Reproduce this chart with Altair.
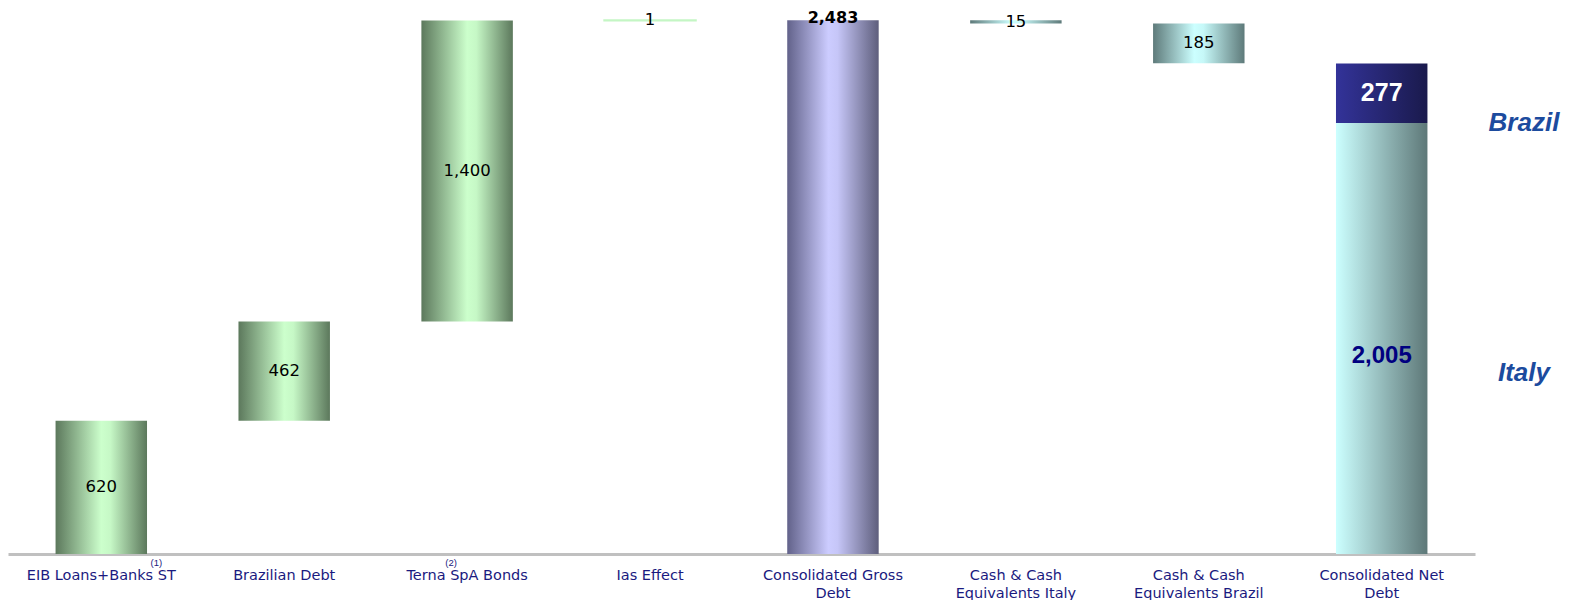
import altair as alt
import pandas as pd

# ---------------- data ----------------
categories = [
    "EIB Loans+Banks ST",
    "Brazilian Debt",
    "Terna SpA Bonds",
    "Ias Effect",
    "Consolidated Gross\nDebt",
    "Cash & Cash\nEquivalents Italy",
    "Cash & Cash\nEquivalents Brazil",
    "Consolidated Net\nDebt",
]
debt_components = [620, 462, 1400, 1]
gross_debt = 2483
cash_items = [15, 185]
net_italy = 2005
net_brazil = 277
region_labels = ["Brazil", "Italy"]
footnotes = ["(1)", "(2)"]

# ---------------- build waterfall table ----------------
rows = []
run = 0
kinds = ["green", "green", "green", "ias"]
for i, v in enumerate(debt_components):
    rows.append(dict(cat=categories[i], start=run, end=run + v, label=f"{v:,}", kind=kinds[i]))
    run += v
rows.append(dict(cat=categories[4], start=0, end=gross_debt, label=f"{gross_debt:,}", kind="gross"))
run = gross_debt
for j, v in enumerate(cash_items):
    rows.append(dict(cat=categories[5 + j], start=run, end=run - v, label=f"{v:,}", kind="cash"))
    run -= v
rows.append(dict(cat=categories[7], start=0, end=net_italy, label=f"{net_italy:,}", kind="italy"))
rows.append(dict(cat=categories[7], start=net_italy, end=net_italy + net_brazil, label=f"{net_brazil:,}", kind="brazil"))
df = pd.DataFrame(rows)
df["mid"] = (df["start"] + df["end"]) / 2
df["top"] = df[["start", "end"]].max(axis=1)

regions = pd.DataFrame({"region": region_labels, "pos": [net_italy, net_italy * 0.42]})

W, H = 1467, 534
YMAX = 2484
yscale = alt.Scale(domain=[0, YMAX], nice=False, zero=True)

LABEL_COLOR = "#1a1a80"
AX_FONT = "DejaVu Sans"

x = alt.X("cat:N", sort=categories,
          scale=alt.Scale(paddingInner=0.5, paddingOuter=0.26),
          axis=alt.Axis(title=None, labelAngle=0, ticks=False, domainColor="#c0c0c0",
                        domainWidth=3, labelColor=LABEL_COLOR, labelFont=AX_FONT,
                        labelFontSize=14.5, labelPadding=14, labelLineHeight=18,
                        labelExpr="split(datum.value, '\\n')", labelBaseline="top"))
xs = alt.X("cat:N", sort=categories)
y = alt.Y("start:Q", scale=yscale, axis=None)
y2 = alt.Y2("end:Q")

def grad(stops):
    return alt.Gradient(gradient="linear", x1=0, x2=1, y1=0, y2=0,
                        stops=[alt.GradientStop(color=c, offset=o) for o, c in stops])

green = grad([(0, "#5c785c"), (0.5, "#ccffcc"), (0.6, "#c6f8c6"), (1, "#5c785c")])
purple = grad([(0, "#62628a"), (0.45, "#ccccff"), (0.55, "#c6c6f8"), (1, "#5e5e7c")])
teal = grad([(0, "#5e7a7a"), (0.45, "#ccffff"), (0.55, "#c6f8f8"), (1, "#5e7a7a")])
netg = grad([(0, "#ccffff"), (1, "#5e7878")])
darkb = grad([(0, "#333399"), (1, "#1a1a4c")])

base = alt.Chart(df)

def bars(kind, fill, **kw):
    return base.transform_filter(alt.datum.kind == kind).mark_bar(color=fill, **kw).encode(x=x, y=y, y2=y2)

layers = [
    bars("green", green),
    bars("ias", "#ccffcc", stroke="#c4f6c4", strokeWidth=2),
    bars("gross", purple),
    bars("cash", teal),
    bars("italy", netg),
    bars("brazil", darkb),
]

layers.append(
    base.transform_filter("datum.kind == 'green' || datum.kind == 'ias' || datum.kind == 'cash'")
    .mark_text(font=AX_FONT, fontSize=16.5, color="black", baseline="middle")
    .encode(x=xs, y=alt.Y("mid:Q", scale=yscale), text="label:N")
)
layers.append(
    base.transform_filter(alt.datum.kind == "gross")
    .mark_text(font=AX_FONT, fontSize=16, fontWeight="bold", color="black", baseline="alphabetic", dy=3)
    .encode(x=xs, y=alt.Y("top:Q", scale=yscale), text="label:N")
)
layers.append(
    base.transform_filter(alt.datum.kind == "italy")
    .mark_text(font="Liberation Sans", fontSize=24, fontWeight="bold", color="#000080", baseline="middle", dy=18)
    .encode(x=xs, y=alt.Y("mid:Q", scale=yscale), text="label:N")
)
layers.append(
    base.transform_filter(alt.datum.kind == "brazil")
    .mark_text(font="Liberation Sans", fontSize=25, fontWeight="bold", color="white", baseline="middle")
    .encode(x=xs, y=alt.Y("mid:Q", scale=yscale), text="label:N")
)
layers.append(
    alt.Chart(regions)
    .mark_text(font="Liberation Sans", fontSize=26, fontWeight="bold", fontStyle="italic", color="#1c4b9e",
               baseline="middle", align="center")
    .encode(x=alt.value(W + 49), y=alt.Y("pos:Q", scale=yscale), text="region:N")
)

fn = pd.DataFrame({"cat": [categories[0], categories[2]], "note": footnotes})
for i, dx in enumerate([55, -16]):
    layers.append(
        alt.Chart(fn.iloc[[i]])
        .mark_text(font="Liberation Sans", fontSize=9.5, color=LABEL_COLOR, baseline="middle", dx=dx)
        .encode(x=xs, y=alt.value(H + 9), text="note:N")
    )

chart = (
    alt.layer(*layers)
    .properties(width=W, height=H,
                autosize=alt.AutoSizeParams(type="none"),
                padding={"left": 0, "top": 12, "right": 90, "bottom": 46})
    .configure_view(stroke=None)
)

chart.save("out.html", embed_options={"renderer": "svg", "actions": False})
